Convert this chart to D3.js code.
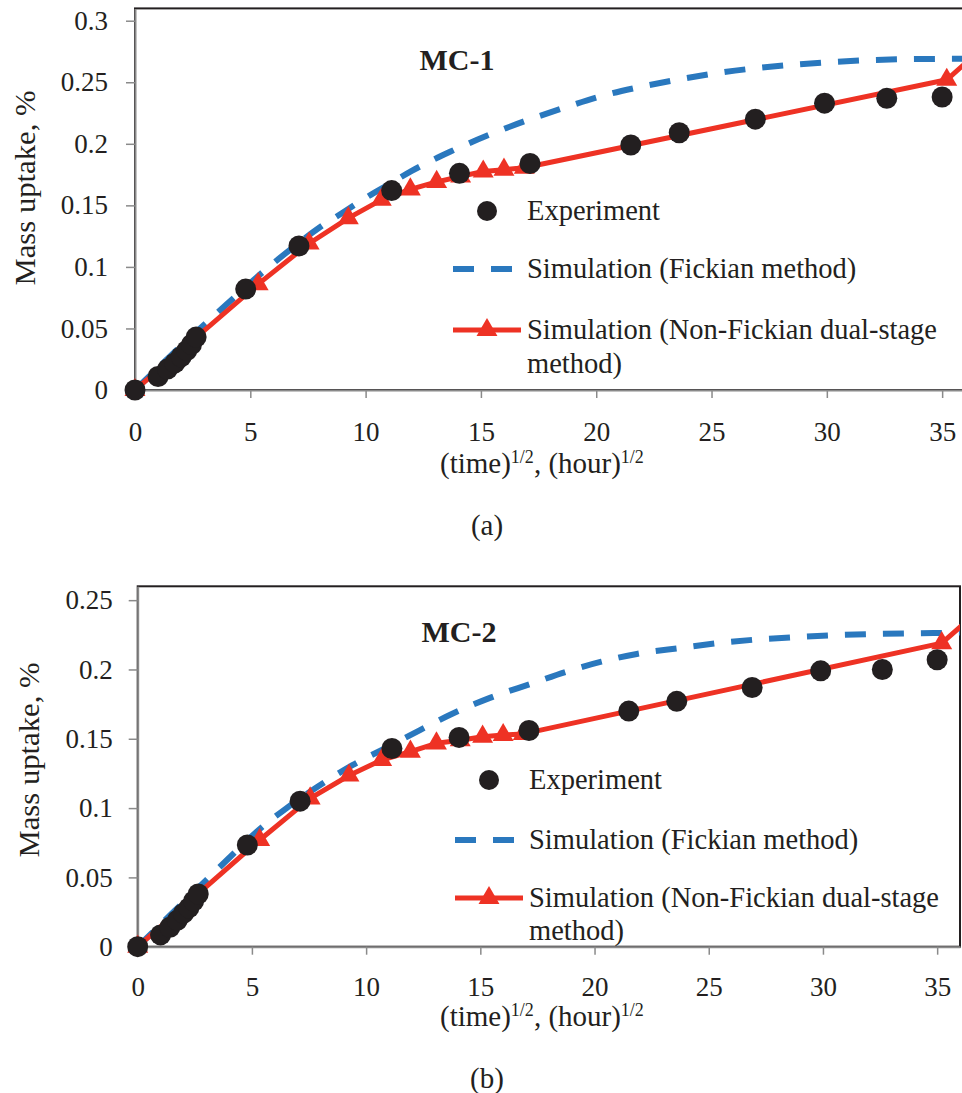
<!DOCTYPE html>
<html>
<head>
<meta charset="utf-8">
<script src="https://cdn.jsdelivr.net/npm/d3@7"></script>
<style>
  body { margin: 0; background: #fff; }
  svg text { font-family: "Liberation Serif", "Times New Roman", serif; fill: #231f20; }
</style>
</head>
<body>
<div id="chart"></div>
<script>
// experiment: (time)^1/2 in hour^1/2
const expTime = [0, 1, 1.41, 1.73, 2, 2.24, 2.45, 2.65, 4.8, 7.11, 11.13, 14.07, 17.13, 21.5, 23.6, 26.9, 29.9, 32.6, 35.0];
const expMC1 = [0, 0.011, 0.017, 0.022, 0.027, 0.032, 0.037, 0.043, 0.082, 0.117, 0.162, 0.176, 0.184, 0.199, 0.209, 0.220, 0.233, 0.237, 0.238];
const expMC2 = [0, 0.0085, 0.014, 0.019, 0.024, 0.028, 0.033, 0.038, 0.0734, 0.105, 0.143, 0.151, 0.156, 0.170, 0.177, 0.187, 0.199, 0.200, 0.207];

// Fickian simulation
const fickTimeMC1 = [0, 1, 2, 3, 4, 5, 6, 7, 8, 9, 10, 11, 12, 13.66, 15.25, 16.84, 18.57, 20.17, 21.6, 23.5, 25.1, 26.8, 28.5, 30.3, 31.9, 33.6, 35.3, 36];
const fickMC1 = [0, 0.018, 0.036, 0.053, 0.07, 0.087, 0.103, 0.118, 0.132, 0.144, 0.156, 0.167, 0.178, 0.1935, 0.2065, 0.218, 0.229, 0.2385, 0.245, 0.252, 0.257, 0.2612, 0.2642, 0.2665, 0.268, 0.2688, 0.269, 0.269];
const fickTimeMC2 = [0, 1, 2, 3, 4, 5.21, 6.52, 7.84, 9.4, 10.97, 12.36, 13.82, 15.42, 17.18, 18.78, 20.3, 21.85, 23.74, 25.57, 27.25, 29.0, 30.75, 32.36, 34.1, 36];
const fickMC2 = [0, 0.016, 0.032, 0.048, 0.064, 0.083, 0.1, 0.115, 0.131, 0.1443, 0.1563, 0.1684, 0.1795, 0.1895, 0.1984, 0.2056, 0.2112, 0.2155, 0.2193, 0.2218, 0.2235, 0.2249, 0.2256, 0.2261, 0.2266];

// non-Fickian dual-stage simulation (last point lies past the axis end)
const dualTime = [0, 5.34, 7.55, 9.25, 10.68, 11.94, 13.08, 14.12, 15.1, 16.0, 16.88, 35.2, 37];
const dualMC1 = [0, 0.086, 0.119, 0.1396, 0.1545, 0.163, 0.169, 0.1735, 0.1775, 0.179, 0.1805, 0.252, 0.282];
const dualMC2 = [0, 0.077, 0.107, 0.1235, 0.1347, 0.1407, 0.1467, 0.149, 0.1515, 0.1527, 0.1535, 0.219, 0.245];

const xTicks = [0, 5, 10, 15, 20, 25, 30, 35];
const yTicksMC1 = [0, 0.05, 0.1, 0.15, 0.2, 0.25, 0.3];
const yTicksMC2 = [0, 0.05, 0.1, 0.15, 0.2, 0.25];

const legendLabels = ["Experiment", "Simulation (Fickian method)", "Simulation (Non-Fickian dual-stage", "method)"];

const RED = "#ee3224", BLUE = "#2a78be", DOT = "#231f20", GRAY = "#8a8a8a";

const svg = d3.select("#chart").append("svg")
  .attr("width", 962).attr("height", 1093);

const panels = [
  {
    id: "a", title: "MC-1", caption: "(a)",
    x0: 135, x1: 965.2, yTop: 8.4, yBottom: 390, yMax: 0.31, yTicks: yTicksMC1,
    exp: expMC1, fickT: fickTimeMC1, fick: fickMC1, dual: dualMC1,
    titlePos: [457, 70], legendX: 487, legendY: [211, 269, 330, 364],
    xLabelPad: 24, yLabelPad: 18, axisTitleX: 440, axisTitleY: 473, captionY: 535, yTitle: [25, 188]
  },
  {
    id: "b", title: "MC-2", caption: "(b)",
    x0: 137.7, x1: 960, yTop: 586.3, yBottom: 946.7, yMax: 0.26, yTicks: yTicksMC2,
    exp: expMC2, fickT: fickTimeMC2, fick: fickMC2, dual: dualMC2,
    titlePos: [459, 642], legendX: 489, legendY: [780, 840, 898, 931],
    xLabelPad: 22, yLabelPad: 16, axisTitleX: 440, axisTitleY: 1026, captionY: 1088, yTitle: [29, 760]
  }
];

panels.forEach(drawPanel);

function drawPanel(p) {
  const x = d3.scaleLinear().domain([0, 36]).range([p.x0, p.x1]);
  const y = d3.scaleLinear().domain([0, p.yMax]).range([p.yBottom, p.yTop]);
  const g = svg.append("g");

  g.append("clipPath").attr("id", "clip-" + p.id)
    .append("rect")
    .attr("x", p.x0).attr("y", p.yTop)
    .attr("width", p.x1 - p.x0).attr("height", p.yBottom - p.yTop);

  // plot area border
  g.append("rect")
    .attr("x", p.x0).attr("y", p.yTop)
    .attr("width", p.x1 - p.x0).attr("height", p.yBottom - p.yTop)
    .attr("fill", "none").attr("stroke", "#231f20").attr("stroke-width", 2);

  // axes
  const xAxis = g.append("g")
    .attr("transform", `translate(0,${p.yBottom})`)
    .call(d3.axisBottom(x).tickValues(xTicks).tickSize(8).tickSizeOuter(0).tickPadding(p.xLabelPad).tickFormat(d3.format("d")));
  const yAxis = g.append("g")
    .attr("transform", `translate(${p.x0},0)`)
    .call(d3.axisLeft(y).tickValues(p.yTicks).tickSize(9).tickSizeOuter(0).tickPadding(p.yLabelPad).tickFormat(d3.format("~g")));
  [xAxis, yAxis].forEach((a) => {
    a.select(".domain").attr("stroke", GRAY).attr("stroke-width", 2);
    a.selectAll(".tick line").attr("stroke", GRAY).attr("stroke-width", 1.5);
    a.selectAll(".tick text").style("font-size", "27px").attr("fill", "#231f20");
  });

  const lines = g.append("g").attr("clip-path", `url(#clip-${p.id})`);

  const fickPts = p.fickT.map((t, i) => [t, p.fick[i]]);
  lines.append("path")
    .datum(fickPts)
    .attr("d", d3.line().x((d) => x(d[0])).y((d) => y(d[1])).curve(d3.curveMonotoneX))
    .attr("fill", "none").attr("stroke", BLUE).attr("stroke-width", 6)
    .attr("stroke-dasharray", "21,17");

  const dualPts = dualTime.map((t, i) => [t, p.dual[i]]);
  lines.append("path")
    .datum(dualPts)
    .attr("d", d3.line().x((d) => x(d[0])).y((d) => y(d[1])))
    .attr("fill", "none").attr("stroke", RED).attr("stroke-width", 5)
    .attr("stroke-linejoin", "round");

  const tri = d3.symbol(d3.symbolTriangle, 190);
  g.append("g").selectAll("path")
    .data(dualPts.filter((d) => d[0] <= 36))
    .join("path")
    .attr("d", tri)
    .attr("transform", (d) => `translate(${x(d[0])},${y(d[1])})`)
    .attr("fill", RED);

  g.append("g").selectAll("circle")
    .data(expTime.map((t, i) => [t, p.exp[i]]))
    .join("circle")
    .attr("cx", (d) => x(d[0])).attr("cy", (d) => y(d[1]))
    .attr("r", 10.5).attr("fill", DOT);

  // panel title
  g.append("text")
    .attr("x", p.titlePos[0]).attr("y", p.titlePos[1])
    .attr("text-anchor", "middle")
    .style("font-size", "30px").style("font-weight", "bold")
    .text(p.title);

  // legend
  const lx = p.legendX, ly = p.legendY, tx = lx + 40;
  g.append("circle").attr("cx", lx).attr("cy", ly[0]).attr("r", 10).attr("fill", DOT);
  g.append("line")
    .attr("x1", lx - 34).attr("x2", lx + 25).attr("y1", ly[1]).attr("y2", ly[1])
    .attr("stroke", BLUE).attr("stroke-width", 6).attr("stroke-dasharray", "21,17");
  g.append("line")
    .attr("x1", lx - 34).attr("x2", lx + 34).attr("y1", ly[2]).attr("y2", ly[2])
    .attr("stroke", RED).attr("stroke-width", 5);
  g.append("path").attr("d", tri).attr("transform", `translate(${lx},${ly[2]})`).attr("fill", RED);

  legendLabels.forEach((label, i) => {
    g.append("text")
      .attr("x", tx).attr("y", ly[i]).attr("dy", "0.33em")
      .style("font-size", "28.5px")
      .text(label);
  });

  // y-axis title
  g.append("text")
    .attr("transform", `translate(${p.yTitle[0]},${p.yTitle[1]}) rotate(-90)`)
    .attr("text-anchor", "middle").attr("dy", "0.33em")
    .style("font-size", "29px")
    .attr("textLength", 195).attr("lengthAdjust", "spacingAndGlyphs")
    .text("Mass uptake, %");

  // x-axis title with superscripts
  const xt = g.append("text")
    .attr("x", p.axisTitleX).attr("y", p.axisTitleY)
    .style("font-size", "29px");
  xt.append("tspan").text("(time)");
  xt.append("tspan").attr("dy", -10).style("font-size", "18px").text("1/2");
  xt.append("tspan").attr("dy", 10).text(", (hour)");
  xt.append("tspan").attr("dy", -10).style("font-size", "18px").text("1/2");

  g.append("text")
    .attr("x", 487).attr("y", p.captionY)
    .attr("text-anchor", "middle")
    .style("font-size", "29px")
    .text(p.caption);
}
</script>
</body>
</html>
